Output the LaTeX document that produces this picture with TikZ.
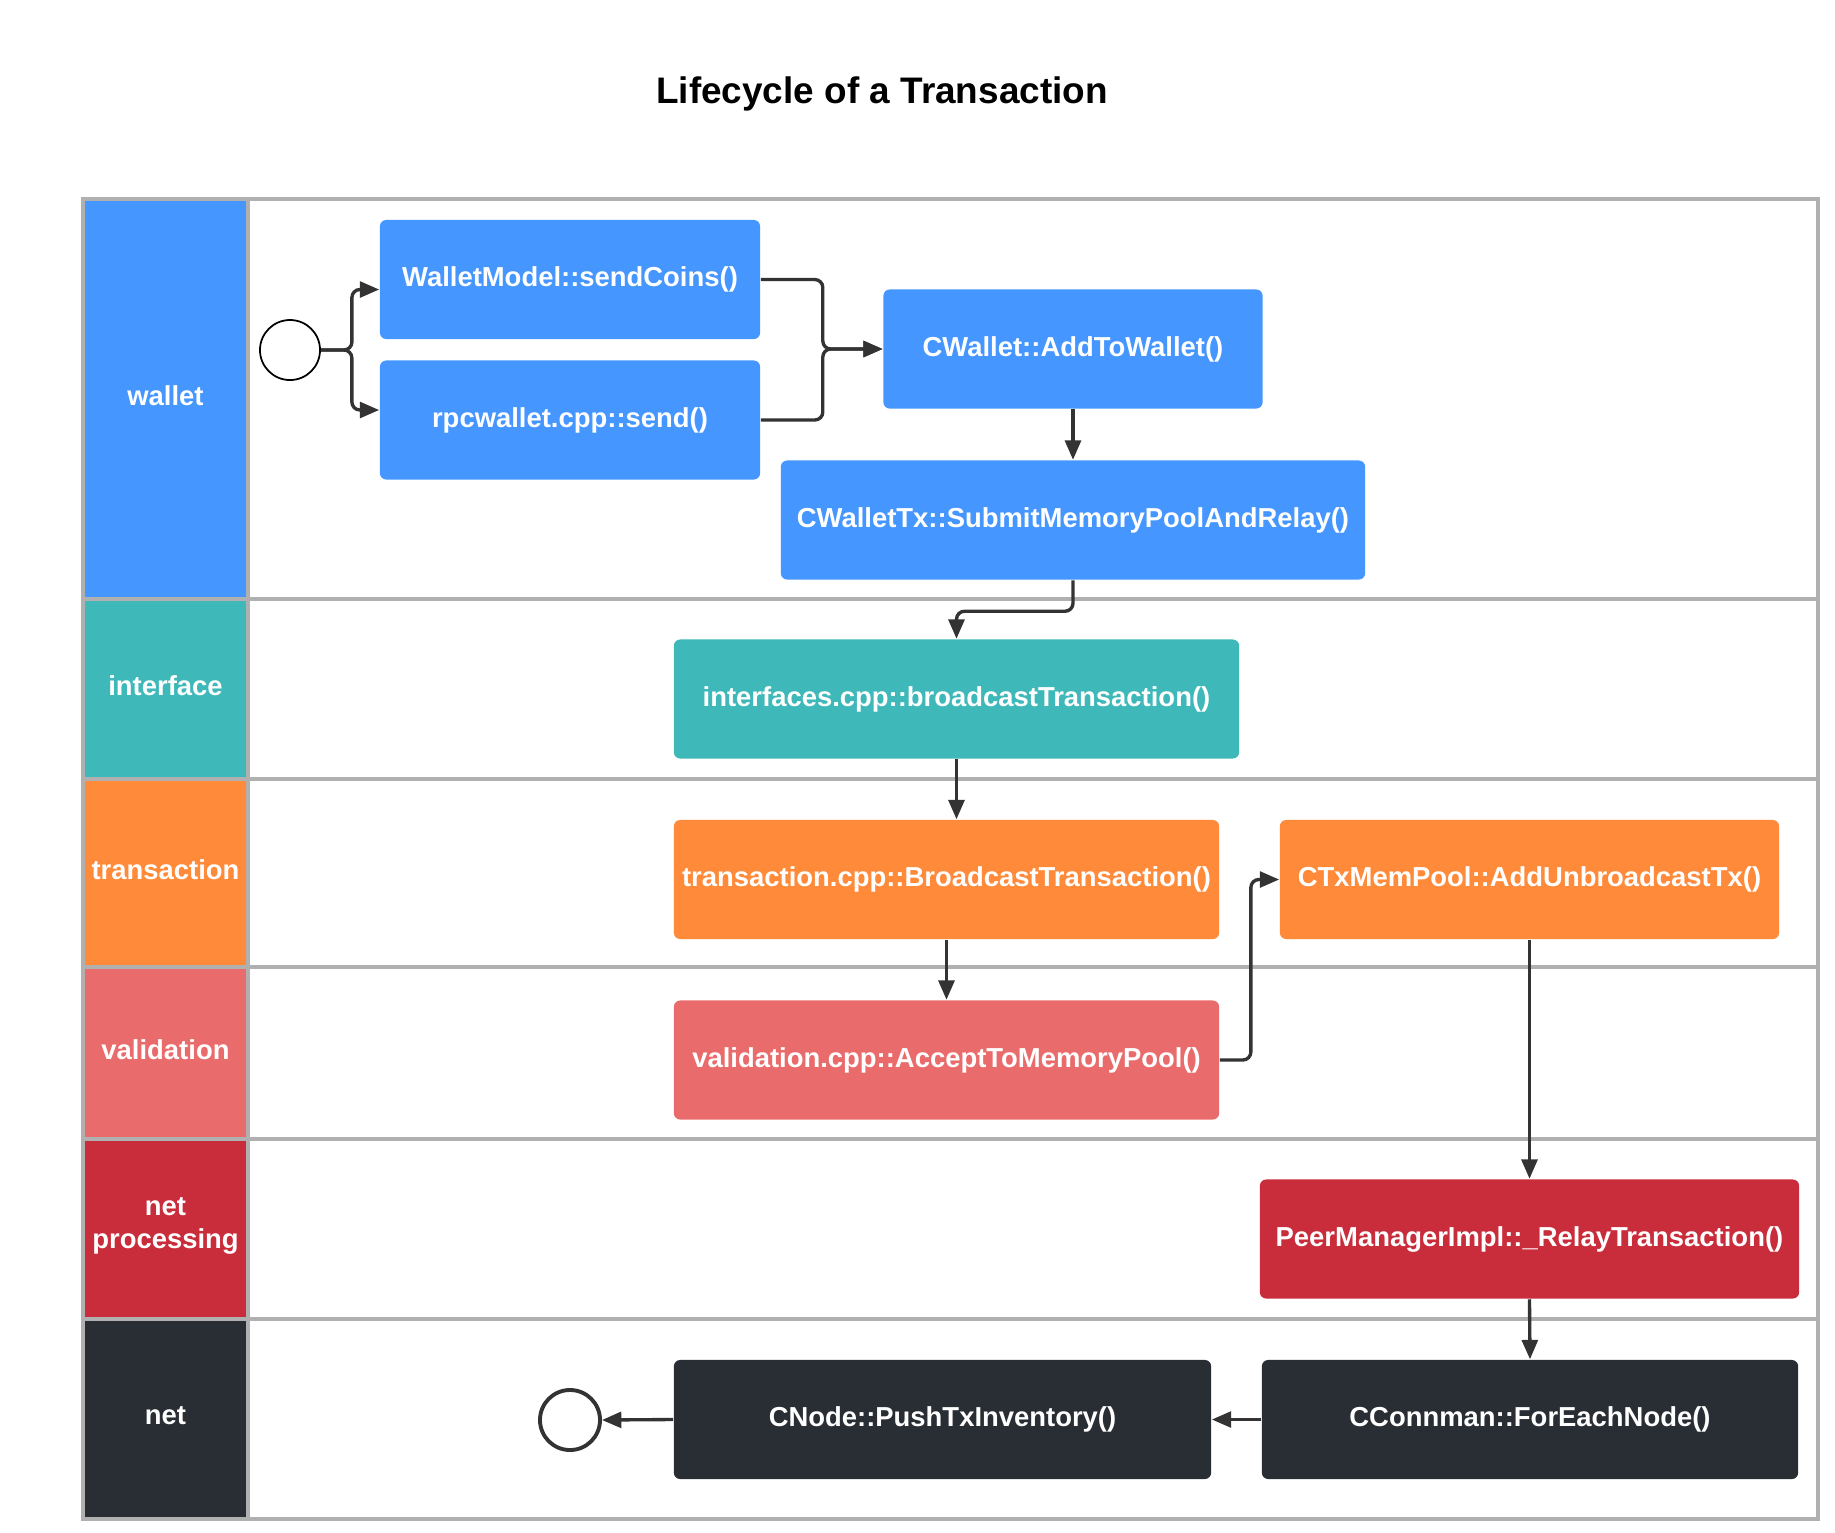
\documentclass[tikz,border=0pt]{standalone}
\usepackage{fontspec}
\setmainfont{Liberation Sans}
\usepackage{tikz}
\usetikzlibrary{arrows.meta, positioning, calc}
\definecolor{cWallet}{RGB}{69,150,255}
\definecolor{cIface}{RGB}{62,184,185}
\definecolor{cTrans}{RGB}{255,139,58}
\definecolor{cValid}{RGB}{234,107,107}
\definecolor{cNetProc}{RGB}{201,44,58}
\definecolor{cNet}{RGB}{41,45,52}
\definecolor{cLine}{RGB}{176,176,176}
\definecolor{cArrow}{RGB}{51,51,51}
\tikzset{
    lanelabel/.style={text=white, font=\bfseries\fontsize{7.8}{9.4}\selectfont, align=center},
    func/.style     ={rectangle, rounded corners=1.8pt, minimum height=1.19cm, inner sep=0pt, text=white, font=\bfseries\fontsize{7.8}{9.4}\selectfont, align=center},
    terminal/.style ={circle, minimum size=0.6cm, inner sep=0pt, draw=black, line width=0.5pt},
    flowarrow/.style={-{Triangle[length=5.5pt, width=4.5pt]}, line width=0.95pt, draw=cArrow, rounded corners=0.08cm},
    laneline/.style ={draw=cLine, line width=1.15pt},
}

\begin{document}
\begin{tikzpicture}[x=0.01cm, y=-0.01cm]
        \useasboundingbox (0,0) rectangle (1835,1532);
        \node[font=\bfseries\fontsize{10.5}{12.6}\selectfont, anchor=base] (title) at (882,103) {Lifecycle of a Transaction};
        % swimlanes
        \foreach \ya/\yb/\col/\lbl [count=\i] in {199/599/cWallet/wallet, 599/779/cIface/interface, 779/967/cTrans/transaction, 967/1139/cValid/validation, 1139/1319/cNetProc/{net\\processing}, 1319/1519/cNet/net} {
            \fill[\col] (83,\ya) rectangle (248,\yb);
            \node[lanelabel] (lane\i) at (165.5,{(\ya+\yb)/2-3}) {\lbl};
        }
        \foreach \y in {599, 779, 967, 1139, 1319} {
            \draw[laneline] (83,\y) -- (1818,\y);
        }
        \draw[laneline] (248,199) -- (248,1519);
        \draw[laneline] (83,199) rectangle (1818,1519);
        % wallet
        \node[terminal] (start) at (290,350) {};
        \node[func, fill=cWallet, minimum width=3.8cm]  (sendCoins) at (570,279.5) {WalletModel::sendCoins()};
        \node[func, fill=cWallet, minimum width=3.8cm]  (rpcSend)   at (570,420)   {rpcwallet.cpp::send()};
        \node[func, fill=cWallet, minimum width=3.79cm] (addWallet) at (1073,349)  {CWallet::AddToWallet()};
        \node[func, fill=cWallet, minimum width=5.84cm] (submit)    at (1073,520)  {CWalletTx::SubmitMemoryPoolAndRelay()};
        % interface .. validation
        \node[func, fill=cIface, minimum width=5.65cm] (broadcast)  at (956.5,699)   {interfaces.cpp::broadcastTransaction()};
        \node[func, fill=cTrans, minimum width=5.45cm] (txBroadcast) at (946.5,879.5) {transaction.cpp::BroadcastTransaction()};
        \node[func, fill=cTrans, minimum width=4.99cm] (memPool)    at (1529.5,879.5) {CTxMemPool::AddUnbroadcastTx()};
        \node[func, fill=cValid, minimum width=5.45cm] (accept)     at (946.5,1060)  {validation.cpp::AcceptToMemoryPool()};
        % net processing / net
        \node[func, fill=cNetProc, minimum width=5.39cm] (relay)  at (1529.5,1239)  {PeerManagerImpl::\_RelayTransaction()};
        \node[func, fill=cNet, minimum width=5.36cm]     (forEach) at (1530,1419.5) {CConnman::ForEachNode()};
        \node[func, fill=cNet, minimum width=5.37cm]     (pushInv) at (942.5,1419.5) {CNode::PushTxInventory()};
        \node[terminal, draw=cArrow, line width=1.1pt] (finish) at (570,1420) {};
        % connectors
        \draw[flowarrow] (start.east) -- ++(31,0) |- ($(sendCoins.west)+(0,10)$);
        \draw[flowarrow] (start.east) -- ++(31,0) |- ($(rpcSend.west)+(0,-10)$);
        \draw[flowarrow] (sendCoins.east) -- ++(62,0) |- (addWallet.west);
        \draw[flowarrow] (rpcSend.east) -- ++(62,0) |- (addWallet.west);
        \draw[flowarrow] (addWallet.south) -- (submit.north);
        \draw[flowarrow] (submit.south) -- ++(0,31) -| (broadcast.north);
        \draw[flowarrow] (broadcast.south) -- (broadcast.south |- txBroadcast.north);
        \draw[flowarrow] (txBroadcast.south) -- (accept.north);
        \draw[flowarrow] (accept.east) -- ++(31,0) |- (memPool.west);
        \draw[flowarrow] (memPool.south) -- (relay.north);
        \draw[flowarrow] (relay.south) -- (forEach.north);
        \draw[flowarrow] (forEach.west) -- (pushInv.east);
        \draw[flowarrow] (pushInv.west) -- (finish.east);
    \end{tikzpicture}
\end{document}
